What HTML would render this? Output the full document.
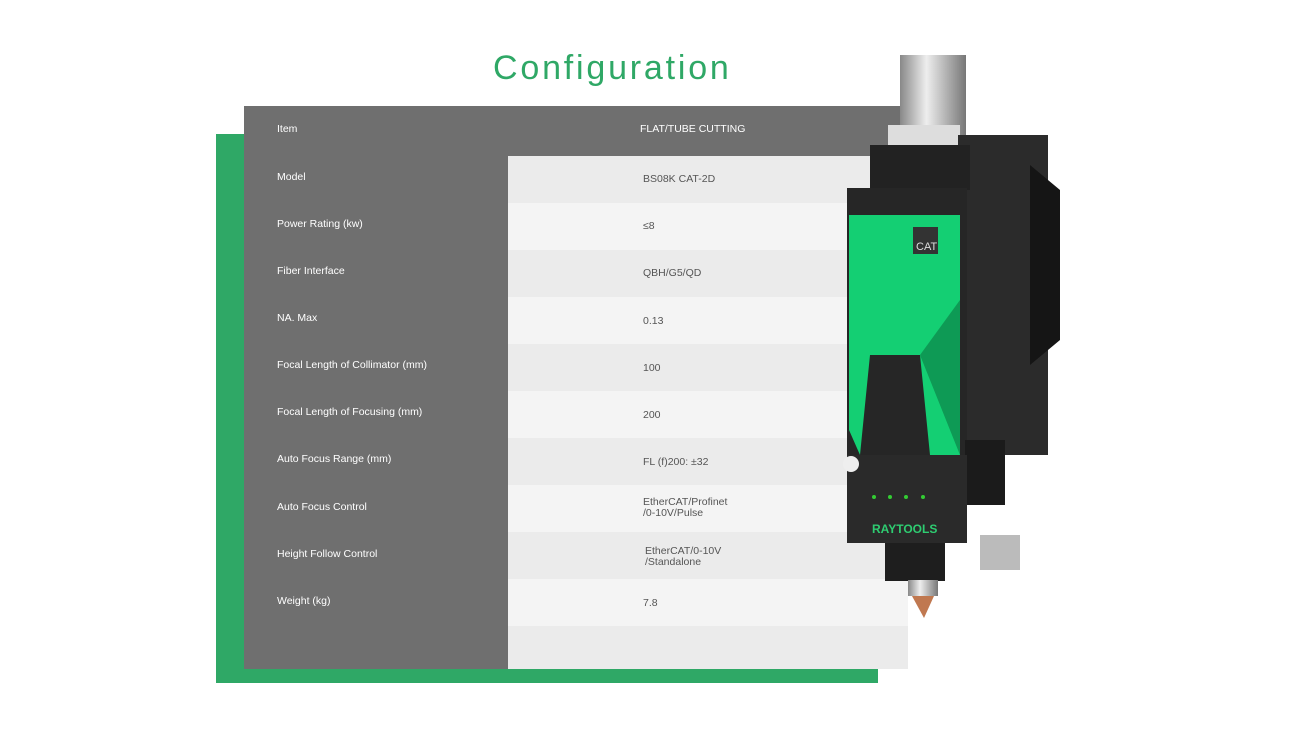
<!DOCTYPE html>
<html><head><style>
body{margin:0;width:1309px;height:739px;background:#fff;position:relative;overflow:hidden;font-family:"Liberation Sans",sans-serif}
.a{position:absolute}
.l{position:absolute;left:277px;color:#fff;font-size:10.5px}
.v{position:absolute;left:643px;color:#555;font-size:10.5px;line-height:11px}
</style></head><body>
<div class="a" style="left:493px;top:49px;font-size:34px;color:#2fa866;letter-spacing:2.8px">Configuration</div>
<div class="a" style="left:216px;top:134px;width:662px;height:549px;background:#2fa866"></div>
<div class="a" style="left:244px;top:106px;width:664px;height:50px;background:#6f6f6f"></div>
<div class="a" style="left:244px;top:106px;width:264px;height:563px;background:#6f6f6f"></div>
<div class="a" style="left:508px;top:156px;width:400px;height:513px;background:repeating-linear-gradient(#ebebeb 0,#ebebeb 47px,#f4f4f4 47px,#f4f4f4 94px)"></div>
<div class="l" style="top:123px">Item</div>
<div class="a" style="left:640px;top:123px;color:#fff;font-size:10.5px">FLAT/TUBE CUTTING</div>
<div class="l" style="top:171px">Model</div><div class="v" style="top:174px">BS08K CAT-2D</div>
<div class="l" style="top:218px">Power Rating (kw)</div><div class="v" style="top:221px">≤8</div>
<div class="l" style="top:265px">Fiber Interface</div><div class="v" style="top:268px">QBH/G5/QD</div>
<div class="l" style="top:312px">NA. Max</div><div class="v" style="top:316px">0.13</div>
<div class="l" style="top:359px">Focal Length of Collimator (mm)</div><div class="v" style="top:363px">100</div>
<div class="l" style="top:406px">Focal Length of Focusing (mm)</div><div class="v" style="top:410px">200</div>
<div class="l" style="top:453px">Auto Focus Range (mm)</div><div class="v" style="top:457px">FL (f)200: ±32</div>
<div class="l" style="top:501px">Auto Focus Control</div><div class="v" style="top:497px">EtherCAT/Profinet<br>/0-10V/Pulse</div>
<div class="l" style="top:548px">Height Follow Control</div><div class="v" style="top:546px;left:645px">EtherCAT/0-10V<br>/Standalone</div>
<div class="l" style="top:595px">Weight (kg)</div><div class="v" style="top:598px">7.8</div>
<svg class="a" style="left:0;top:0" width="1309" height="739">
<defs><linearGradient id="s" x1="0" x2="1"><stop offset="0" stop-color="#888"/><stop offset=".4" stop-color="#eee"/><stop offset="1" stop-color="#777"/></linearGradient></defs>
<rect x="900" y="55" width="66" height="90" fill="url(#s)"/>
<rect x="888" y="125" width="72" height="22" fill="#ddd"/>
<rect x="958" y="135" width="90" height="320" fill="#2b2b2b"/>
<path d="M1030 165 L1060 190 L1060 340 L1030 365 Z" fill="#151515"/>
<rect x="870" y="145" width="100" height="45" fill="#222"/>
<rect x="847" y="188" width="120" height="355" fill="#262626"/>
<path d="M849 215 L960 215 L960 455 L930 455 L920 355 L870 355 L860 455 L849 430 Z" fill="#14cf73"/>
<path d="M920 355 L960 455 L960 300 Z" fill="#0e9a55"/>
<rect x="913" y="227" width="25" height="27" fill="#333"/>
<text x="916" y="250" font-size="11" fill="#ddd">CAT</text>
<rect x="965" y="440" width="40" height="65" fill="#1b1b1b"/>
<rect x="847" y="455" width="120" height="88" fill="#2a2a2a"/>
<circle cx="851" cy="464" r="8" fill="#eee"/>
<g fill="#3c3"><circle cx="874" cy="497" r="2"/><circle cx="890" cy="497" r="2"/><circle cx="906" cy="497" r="2"/><circle cx="923" cy="497" r="2"/></g>
<text x="872" y="533" font-size="12" font-weight="bold" fill="#2ecc71">RAYTOOLS</text>
<rect x="885" y="543" width="60" height="38" fill="#1e1e1e"/>
<rect x="980" y="535" width="40" height="35" fill="#bbb"/>
<rect x="908" y="580" width="30" height="16" fill="url(#s)"/>
<path d="M912 596 L934 596 L924 618 Z" fill="#c07850"/>
</svg>
</body></html>
